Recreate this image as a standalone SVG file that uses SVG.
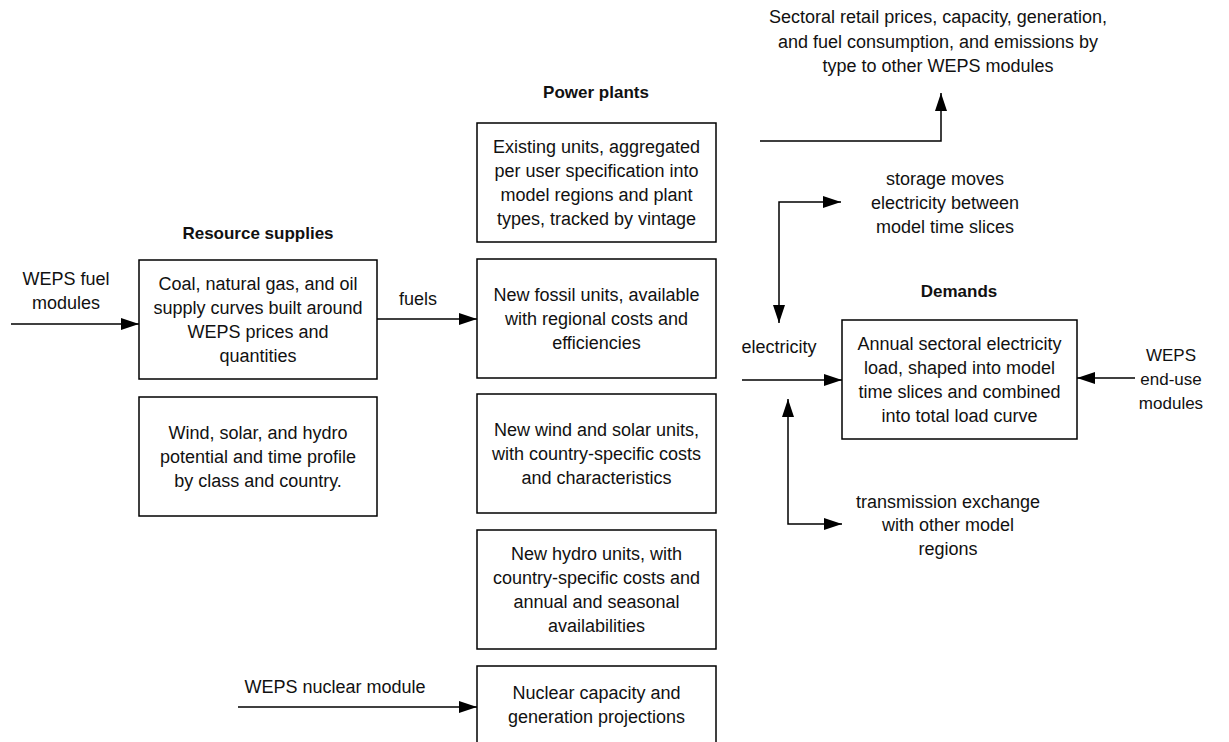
<svg xmlns="http://www.w3.org/2000/svg" width="1229" height="742" viewBox="0 0 1229 742">
<style>
.bg{fill:#fff}
.box{fill:#fff;stroke:#000;stroke-width:1.5}
.t{font-family:"Liberation Sans",Arial,sans-serif;font-size:18px;fill:#111;text-anchor:middle;dominant-baseline:central}
.s{font-size:17px}
.h{font-family:"Liberation Sans",Arial,sans-serif;font-size:17px;font-weight:bold;fill:#111;text-anchor:middle;dominant-baseline:central}
.c{fill:none;stroke:#000;stroke-width:1.5}
</style>
<defs>
<marker id="ah" markerUnits="userSpaceOnUse" markerWidth="18" markerHeight="12" refX="18" refY="6" orient="auto-start-reverse" viewBox="0 0 18 12">
<path d="M0,0 L18,6 L0,12 z" fill="#000"/>
</marker>
</defs>
<rect class="bg" x="0" y="0" width="1229" height="742"/>

<g id="titles">
<text class="h" x="258" y="233">Resource supplies</text>
<text class="h" x="596" y="92">Power plants</text>
<text class="h" x="959" y="291">Demands</text>
</g>

<g id="labels">
<text class="t" x="66" y="279">WEPS fuel</text>
<text class="t" x="66" y="303">modules</text>
<text class="t" x="418" y="299">fuels</text>
<text class="t" x="938" y="17">Sectoral retail prices, capacity, generation,</text>
<text class="t" x="938" y="42">and fuel consumption, and emissions by</text>
<text class="t" x="938" y="66">type to other WEPS modules</text>
<text class="t" x="945" y="179">storage moves</text>
<text class="t" x="945" y="203">electricity between</text>
<text class="t" x="945" y="227">model time slices</text>
<text class="t" x="779" y="347">electricity</text>
<text class="t s" x="1171" y="355">WEPS</text>
<text class="t s" x="1171" y="379">end-use</text>
<text class="t s" x="1171" y="403">modules</text>
<text class="t" x="948" y="502">transmission exchange</text>
<text class="t" x="948" y="525">with other model</text>
<text class="t" x="948" y="549">regions</text>
<text class="t" x="335" y="687">WEPS nuclear module</text>
</g>

<g id="connectors">
<path class="c" d="M11,324 L139,324" marker-end="url(#ah)"/>
<path class="c" d="M377,319 L477,319" marker-end="url(#ah)"/>
<path class="c" d="M760,141 L941,141 L941,93" marker-end="url(#ah)"/>
<path class="c" d="M779,323 L779,202 L841,202" marker-start="url(#ah)" marker-end="url(#ah)"/>
<path class="c" d="M742,380 L842,380" marker-end="url(#ah)"/>
<path class="c" d="M1135,378 L1077,378" marker-end="url(#ah)"/>
<path class="c" d="M788,399 L788,524 L842,524" marker-start="url(#ah)" marker-end="url(#ah)"/>
<path class="c" d="M238,707 L477,707" marker-end="url(#ah)"/>
</g>

<g id="coal">
<rect class="box" x="139" y="260" width="238" height="119"/>
<text class="t" x="258" y="283.5">Coal, natural gas, and oil</text>
<text class="t" x="258" y="307.5">supply curves built around</text>
<text class="t" x="258" y="331.5">WEPS prices and</text>
<text class="t" x="258" y="355.5">quantities</text>
</g>

<g id="renewables-supply">
<rect class="box" x="139" y="397" width="238" height="119"/>
<text class="t" x="258" y="432.5">Wind, solar, and hydro</text>
<text class="t" x="258" y="456.5">potential and time profile</text>
<text class="t" x="258" y="480.5">by class and country.</text>
</g>

<g id="existing">
<rect class="box" x="477" y="123" width="239" height="119"/>
<text class="t" x="596.5" y="146.5">Existing units, aggregated</text>
<text class="t" x="596.5" y="170.5">per user specification into</text>
<text class="t" x="596.5" y="194.5">model regions and plant</text>
<text class="t" x="596.5" y="218.5">types, tracked by vintage</text>
</g>

<g id="fossil">
<rect class="box" x="477" y="259" width="239" height="119"/>
<text class="t" x="596.5" y="294.5">New fossil units, available</text>
<text class="t" x="596.5" y="318.5">with regional costs and</text>
<text class="t" x="596.5" y="342.5">efficiencies</text>
</g>

<g id="windsolar">
<rect class="box" x="477" y="394" width="239" height="119"/>
<text class="t" x="596.5" y="429.5">New wind and solar units,</text>
<text class="t" x="596.5" y="453.5">with country-specific costs</text>
<text class="t" x="596.5" y="477.5">and characteristics</text>
</g>

<g id="hydro">
<rect class="box" x="477" y="530" width="239" height="119"/>
<text class="t" x="596.5" y="553.5">New hydro units, with</text>
<text class="t" x="596.5" y="577.5">country-specific costs and</text>
<text class="t" x="596.5" y="601.5">annual and seasonal</text>
<text class="t" x="596.5" y="625.5">availabilities</text>
</g>

<g id="nuclear">
<rect class="box" x="477" y="666" width="239" height="82"/>
<text class="t" x="596.5" y="693">Nuclear capacity and</text>
<text class="t" x="596.5" y="717">generation projections</text>
</g>

<g id="demands">
<rect class="box" x="842" y="320" width="235" height="119"/>
<text class="t" x="959.5" y="343.5">Annual sectoral electricity</text>
<text class="t" x="959.5" y="367.5">load, shaped into model</text>
<text class="t" x="959.5" y="391.5">time slices and combined</text>
<text class="t" x="959.5" y="415.5">into total load curve</text>
</g>
</svg>
